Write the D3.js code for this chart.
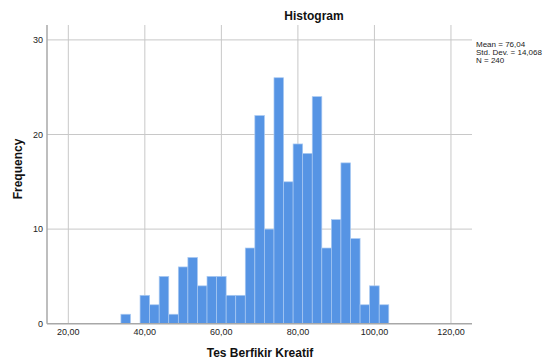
<!DOCTYPE html>
<html><head><meta charset="utf-8">
<script src="https://cdn.jsdelivr.net/npm/d3@7"></script>
<style>body{margin:0;background:#fff}svg{display:block;font-family:"Liberation Sans",Arial,sans-serif}</style>
</head><body><svg id="c" width="547" height="360"></svg>
<script>
const binStarts = [33.75,36.25,38.75,41.25,43.75,46.25,48.75,51.25,53.75,56.25,58.75,61.25,63.75,66.25,68.75,71.25,73.75,76.25,78.75,81.25,83.75,86.25,88.75,91.25,93.75,96.25,98.75,101.25];
const counts = [1,0,3,2,5,1,6,7,4,5,5,3,3,8,22,10,26,15,19,18,24,8,11,17,9,2,4,2];
const binWidth = 2.5;
const xTicks = [20,40,60,80,100,120];
const yTicks = [0,10,20,30];
const stats = ["Mean = 76,04","Std. Dev. = 14,068","N = 240"];

const svg = d3.select("#c");
const L=47, R=472, T=25, B=323.7;
const x = d3.scaleLinear().domain([14.43,125.5]).range([L,R]);
const y = d3.scaleLinear().domain([0,30]).range([B,39.9]);
const fmt = v => d3.format(".2f")(v).replace(".",",");

// grid
svg.append("g").selectAll("line").data(xTicks).join("line")
  .attr("x1",d=>x(d)).attr("x2",d=>x(d)).attr("y1",T).attr("y2",B)
  .attr("stroke","#c8c8c8").attr("stroke-width",1);
svg.append("g").selectAll("line").data(yTicks.filter(d=>d>0)).join("line")
  .attr("x1",L).attr("x2",R).attr("y1",d=>y(d)).attr("y2",d=>y(d))
  .attr("stroke","#c8c8c8").attr("stroke-width",1);

// bars
svg.append("g").selectAll("rect").data(binStarts.map((s,i)=>({s,c:counts[i]})).filter(d=>d.c>0)).join("rect")
  .attr("x",d=>x(d.s)).attr("width",d=>x(d.s+binWidth)-x(d.s))
  .attr("y",d=>y(d.c)).attr("height",d=>y(0)-y(d.c))
  .attr("fill","#5694e4").attr("stroke","#a9c9f2").attr("stroke-width",0.7);

// axes lines
svg.append("line").attr("x1",L).attr("x2",L).attr("y1",T).attr("y2",B).attr("stroke","#a8a8a8").attr("stroke-width",1.5);
svg.append("line").attr("x1",L).attr("x2",R).attr("y1",B).attr("y2",B).attr("stroke","#a8a8a8").attr("stroke-width",1.5);

// tick labels
svg.append("g").selectAll("text").data(yTicks).join("text")
  .attr("x",43).attr("y",d=>y(d)+3).attr("text-anchor","end")
  .attr("font-size",9).attr("fill","#222").text(d=>d);
svg.append("g").selectAll("text").data(xTicks).join("text")
  .attr("x",d=>x(d)).attr("y",335).attr("text-anchor","middle")
  .attr("font-size",9).attr("fill","#222").text(d=>fmt(d));

// titles
svg.append("text").attr("x",314).attr("y",20).attr("text-anchor","middle")
  .attr("font-size",12).attr("font-weight","bold").attr("fill","#111").text("Histogram");
svg.append("text").attr("x",260).attr("y",357).attr("text-anchor","middle")
  .attr("font-size",12).attr("font-weight","bold").attr("fill","#111").text("Tes Berfikir Kreatif");
svg.append("text").attr("transform","translate(22,169) rotate(-90)").attr("text-anchor","middle")
  .attr("font-size",12).attr("font-weight","bold").attr("fill","#111").text("Frequency");

// stats
svg.append("g").selectAll("text").data(stats).join("text")
  .attr("x",476).attr("y",(d,i)=>47+i*8).attr("font-size",8).attr("fill","#222").text(d=>d);
</script></body></html>
